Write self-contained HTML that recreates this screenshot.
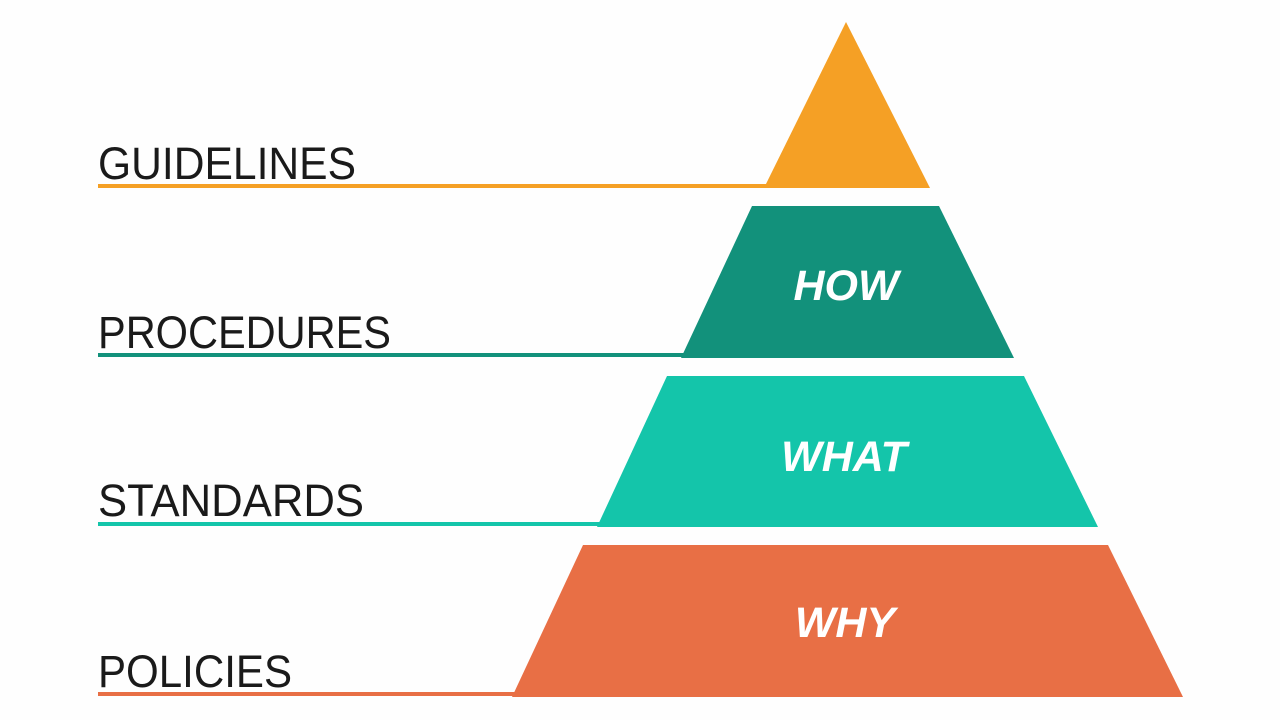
<!DOCTYPE html>
<html><head><meta charset="utf-8"><style>
html,body{margin:0;padding:0;background:#fefefe;}
svg{display:block;}
.l{font-family:"Liberation Sans",sans-serif;font-size:45px;fill:#1a1a1a;}
.w{font-family:"Liberation Sans",sans-serif;font-size:43px;font-weight:bold;font-style:italic;fill:#fff;}
</style></head><body>
<svg width="1280" height="720" viewBox="0 0 1280 720" xmlns="http://www.w3.org/2000/svg">
<rect width="1280" height="720" fill="#fefefe"/>
<!-- top triangle -->
<polygon points="846,22 930,188 764,188" fill="#F5A025"/>
<rect x="98" y="184" width="670" height="4" fill="#F5A025"/>
<text class="l" x="98" y="179" textLength="258" lengthAdjust="spacingAndGlyphs">GUIDELINES</text>
<!-- HOW -->
<polygon points="752,206 939,206 1014,358 681,358" fill="#12917B"/>
<rect x="98" y="353" width="586" height="4" fill="#12917B"/>
<text class="l" x="98" y="348" textLength="293" lengthAdjust="spacingAndGlyphs">PROCEDURES</text>
<text class="w" x="846" y="300" text-anchor="middle">HOW</text>
<!-- WHAT -->
<polygon points="667,376 1024,376 1098,527 597,527" fill="#14C5AA"/>
<rect x="98" y="522" width="502" height="4" fill="#14C5AA"/>
<text class="l" x="98" y="516" textLength="266" lengthAdjust="spacingAndGlyphs">STANDARDS</text>
<text class="w" x="844" y="471" text-anchor="middle">WHAT</text>
<!-- WHY -->
<polygon points="583,545 1108,545 1183,697 512,697" fill="#E86F45"/>
<rect x="98" y="692" width="417" height="4" fill="#E86F45"/>
<text class="l" x="98" y="687" textLength="194" lengthAdjust="spacingAndGlyphs">POLICIES</text>
<text class="w" x="845" y="637" text-anchor="middle">WHY</text>
</svg>
</body></html>
